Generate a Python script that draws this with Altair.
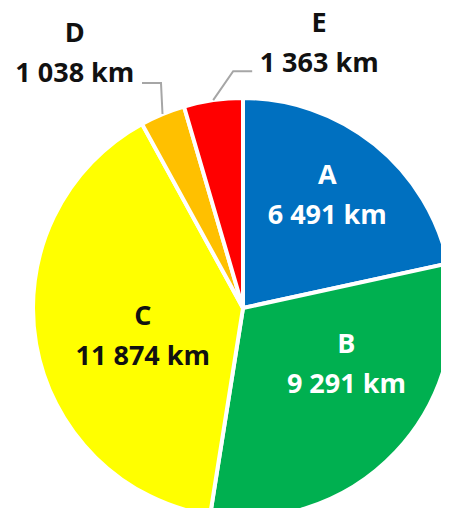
import altair as alt
import numpy as np
import pandas as pd

categories = ["A", "B", "C", "D", "E"]
values = [6491, 9291, 11874, 1038, 1363]
colors = ["#0070C0", "#00B050", "#FFFF00", "#FFC000", "#FF0000"]
text_colors = ["#FFFFFF", "#FFFFFF", "#111111", "#111111", "#111111"]

# geometry / style (plot coordinates)
CX, CY, R = 235, 300, 210
label_r = {"A": 0.6, "B": 0.6, "C": 0.6, "D": 1.3, "E": 1.3}
label_off = {"A": (7, -36), "B": (14, -47), "C": (21, -12), "D": (-66, -28), "E": (114, -20)}
leader = {"D": [(-1.5, -31), (-20.5, -31)], "E": [(20, -29), (39, -29)]}

def fmt(v):
    return f"{v:,}".replace(",", " ") + " km"

df = pd.DataFrame({"cat": categories, "value": values})
total = sum(values)
cum = np.cumsum(values)
mid = (cum - np.array(values) / 2) / total * 2 * np.pi
df["vlabel"] = [fmt(v) for v in values]
df["tcolor"] = text_colors
lx, ly = [], []
for c, m in zip(categories, mid):
    r = label_r[c] * 205
    ox, oy = label_off[c]
    lx.append(CX + r * np.sin(m) + ox)
    ly.append(CY - r * np.cos(m) + oy)
df["lx"] = lx
df["ly"] = ly

rows = []
for c, m in zip(categories, mid):
    if c in leader:
        sx, sy = CX + 210 * np.sin(m), CY - 210 * np.cos(m)
        rows.append({"cat": c, "o": 0, "x": sx, "y": sy})
        for i, (ox, oy) in enumerate(leader[c]):
            rows.append({"cat": c, "o": i + 1, "x": sx + ox, "y": sy + oy})
lines_df = pd.DataFrame(rows)

pie = alt.Chart(df).mark_arc(outerRadius=R, stroke="white", strokeWidth=4).encode(
    theta=alt.Theta("value:Q", stack=True),
    color=alt.Color("cat:N", scale=alt.Scale(domain=categories, range=colors), legend=None),
    order=alt.Order("cat:N"),
    x=alt.value(CX),
    y=alt.value(CY),
)

lines = alt.Chart(lines_df).mark_line(color="#A6A6A6", strokeWidth=2).encode(
    x=alt.X("x:Q", scale=None),
    y=alt.Y("y:Q", scale=None),
    detail="cat:N",
    order="o:Q",
)

text_style = dict(font="Open Sans", fontWeight="bold", fontSize=27, align="center", baseline="middle")
base_text = alt.Chart(df).encode(
    x=alt.X("lx:Q", scale=None),
    y=alt.Y("ly:Q", scale=None),
    color=alt.Color("tcolor:N", scale=None),
)
cat_text = base_text.mark_text(**text_style).encode(text="cat:N")
val_text = base_text.mark_text(dy=40, **text_style).encode(text="vlabel:N")

chart = alt.layer(pie, lines, cat_text, val_text).properties(
    width=433, height=500, padding=0, autosize=alt.AutoSizeParams(type="none")
).configure_view(stroke=None)

chart.save("out.html", embed_options={"renderer": "svg", "actions": False})
